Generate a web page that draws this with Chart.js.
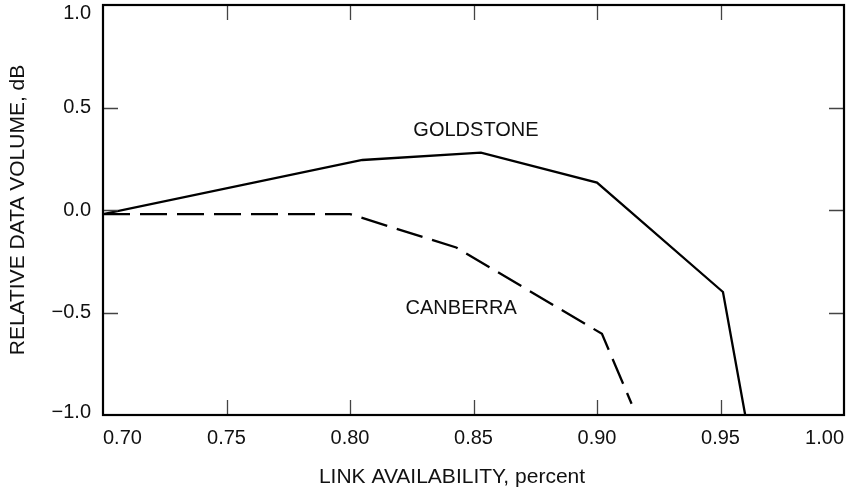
<!DOCTYPE html>
<html>
<head>
<meta charset="utf-8">
<script src="https://cdn.jsdelivr.net/npm/chart.js@4.4.1/dist/chart.umd.min.js"></script>
<style>
  html, body { margin: 0; padding: 0; background: #fff; }
  #wrap { width: 848px; height: 493px; }
</style>
</head>
<body>
<div id="wrap"><canvas id="chart"></canvas></div>
<script>
// tick values
const xTicks = [0.70, 0.75, 0.80, 0.85, 0.90, 0.95, 1.00];
const yTicks = [-1.0, -0.5, 0.0, 0.5, 1.0];

// series
const goldstoneX = [0.700, 0.805, 0.853, 0.900, 0.951, 0.960];
const goldstoneY = [-0.02, 0.244, 0.280, 0.134, -0.40, -1.00];
const canberraX = [0.700, 0.800, 0.843, 0.902, 0.914];
const canberraY = [-0.02, -0.02, -0.183, -0.604, -0.945];

// in-plot series labels (data coordinates)
const seriesLabels = ['GOLDSTONE', 'CANBERRA'];
const labelX = [0.851, 0.845];
const labelY = [0.388, -0.478];

const xTitle = 'LINK AVAILABILITY, percent';
const yTitle = 'RELATIVE DATA VOLUME, dB';

const fontFamily = '"Liberation Sans", Arial, Helvetica, sans-serif';
const textColor = '#111';
const TICK_LEN = 15;

function points(xs, ys) {
  return xs.map((x, i) => ({ x, y: ys[i] }));
}

function fmtY(v) {
  const s = Math.abs(v).toFixed(1);
  return v < 0 ? '\u2212' + s : s;
}

// inward tick marks on all four sides, the box, the x title and the series names
const frameAndTicks = {
  id: 'frameAndTicks',
  beforeDraw(chart) {
    // the top label sits a little below the corner in the original
    const items = chart.scales.y.getLabelItems();
    items.forEach(it => {
      if (it._nudged) return;
      if (it.label === '1.0') it.options.translation[1] += 8;
      if (it.label === '\u22121.0') it.options.translation[1] -= 3;
      it._nudged = true;
    });
  },
  afterDraw(chart) {
    const { ctx, chartArea: a, scales: { x, y } } = chart;
    ctx.save();
    ctx.strokeStyle = '#444';
    ctx.lineWidth = 1.3;
    ctx.beginPath();
    x.ticks.forEach(t => {
      if (t.value <= x.min || t.value >= x.max) return;
      const px = Math.round(x.getPixelForValue(t.value)) + 0.5;
      ctx.moveTo(px, a.bottom); ctx.lineTo(px, a.bottom - TICK_LEN);
      ctx.moveTo(px, a.top); ctx.lineTo(px, a.top + TICK_LEN);
    });
    y.ticks.forEach(t => {
      if (t.value <= y.min || t.value >= y.max) return;
      const py = Math.round(y.getPixelForValue(t.value)) + 0.5;
      ctx.moveTo(a.left, py); ctx.lineTo(a.left + TICK_LEN, py);
      ctx.moveTo(a.right, py); ctx.lineTo(a.right - TICK_LEN, py);
    });
    ctx.stroke();

    ctx.strokeStyle = '#000';
    ctx.lineWidth = 2.2;
    ctx.strokeRect(a.left, a.top, a.right - a.left, a.bottom - a.top);

    ctx.fillStyle = textColor;
    ctx.textAlign = 'center';
    ctx.textBaseline = 'middle';
    ctx.font = `20px ${fontFamily}`;
    seriesLabels.forEach((s, i) => {
      ctx.fillText(s, x.getPixelForValue(labelX[i]), y.getPixelForValue(labelY[i]));
    });
    // x title sits left of the plot centre in the original
    ctx.font = `21px ${fontFamily}`;
    ctx.fillText(xTitle, 452, 477);
    ctx.restore();
  }
};

new Chart(document.getElementById('chart'), {
  type: 'line',
  data: {
    datasets: [
      {
        label: seriesLabels[0],
        data: points(goldstoneX, goldstoneY),
        borderColor: '#000',
        borderWidth: 2.3,
        pointRadius: 0,
        tension: 0,
        fill: false
      },
      {
        label: seriesLabels[1],
        data: points(canberraX, canberraY),
        borderColor: '#000',
        borderWidth: 2.3,
        borderDash: [27, 10],
        pointRadius: 0,
        tension: 0,
        fill: false
      }
    ]
  },
  options: {
    responsive: true,
    maintainAspectRatio: false,
    animation: false,
    events: [],
    layout: { padding: { top: 5, right: 4, bottom: 0, left: 0 } },
    plugins: {
      legend: { display: false },
      tooltip: { enabled: false }
    },
    scales: {
      x: {
        type: 'linear',
        min: 0.70,
        max: 1.00,
        afterBuildTicks: (axis) => { axis.ticks = xTicks.map(v => ({ value: v })); },
        afterFit: (scale) => { scale.height = 78; scale.paddingLeft = 0; scale.paddingRight = 0; },
        grid: { display: false, drawTicks: false },
        border: { display: false },
        ticks: {
          align: 'inner',
          padding: 11,
          maxRotation: 0,
          autoSkip: false,
          color: textColor,
          font: { family: fontFamily, size: 20 },
          callback: (v) => Number(v).toFixed(2)
        },
        title: { display: false }
      },
      y: {
        min: -1.0,
        max: 1.0,
        afterBuildTicks: (axis) => { axis.ticks = yTicks.map(v => ({ value: v })); },
        afterFit: (scale) => { scale.width = 103; scale.paddingTop = 0; scale.paddingBottom = 0; },
        grid: { display: false, drawTicks: false },
        border: { display: false },
        ticks: {
          padding: 12,
          autoSkip: false,
          color: textColor,
          font: { family: fontFamily, size: 20 },
          callback: (v) => fmtY(Number(v))
        },
        title: {
          display: true,
          text: yTitle,
          color: textColor,
          font: { family: fontFamily, size: 21 },
          padding: { top: 6, bottom: 0 }
        }
      }
    }
  },
  plugins: [frameAndTicks]
});
</script>
</body>
</html>
